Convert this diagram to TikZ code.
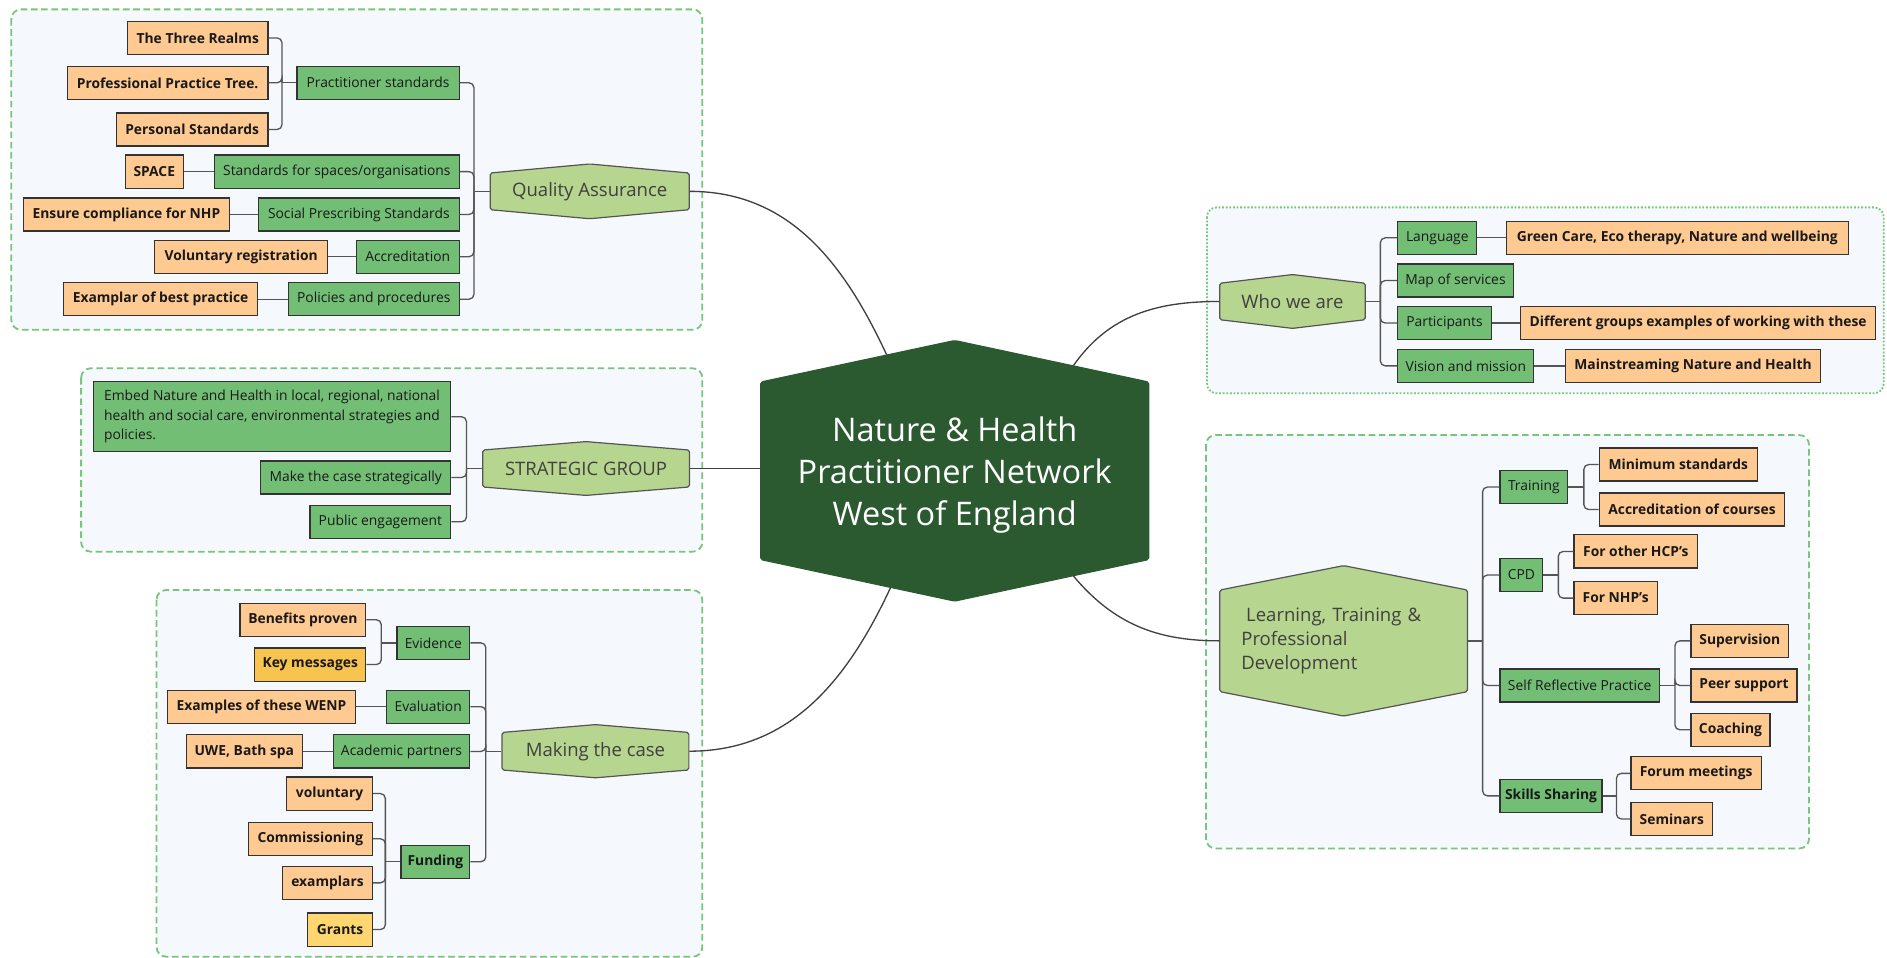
\documentclass[tikz,border=0pt]{standalone}
\usepackage{fontspec}
\setmainfont{Open Sans}
\usetikzlibrary{positioning,calc}
\definecolor{hubgreen}{RGB}{43,90,48}
\definecolor{topicgreen}{RGB}{182,213,142}
\definecolor{boxgreen}{RGB}{115,190,117}
\definecolor{leaforange}{RGB}{255,202,145}
\definecolor{keyorange}{RGB}{248,196,80}
\definecolor{grantyellow}{RGB}{255,214,112}
\definecolor{grpfill}{RGB}{245,249,253}
\definecolor{grpline}{RGB}{120,198,122}
\definecolor{linkgray}{RGB}{85,85,85}

\begin{document}
\begin{tikzpicture}[x=1pt,y=-1pt,
box/.style={draw=black!80,line width=1pt,fill=boxgreen,rectangle,minimum height=27.5pt,inner xsep=3pt,inner ysep=0pt,text=black!90,font=\fontsize{11.5}{13}\selectfont},
leaf/.style={box,fill=leaforange,font=\fontsize{11.5}{13}\selectfont\bfseries},
strong/.style={font=\fontsize{11.5}{13}\selectfont\bfseries},
hexa/.style n args={3}{rectangle,inner sep=0pt,outer sep=0pt,text=black!75,font=\fontsize{15.4}{19.7}\selectfont,
  path picture={\draw[#2,line width=1pt,fill=#1,rounded corners=1.5pt]
    ([shift={(0.5pt,-#3)}]path picture bounding box.north west) -- ([yshift=-0.5pt]path picture bounding box.north)
    -- ([shift={(-0.5pt,-#3)}]path picture bounding box.north east) -- ([shift={(-0.5pt,#3)}]path picture bounding box.south east)
    -- ([yshift=0.5pt]path picture bounding box.south) -- ([shift={(0.5pt,#3)}]path picture bounding box.south west) -- cycle;}},
link/.style={draw=linkgray,line width=1.1pt,rounded corners=4pt},
spoke/.style={draw=black!75,line width=1.1pt},
grp/.style={draw=grpline,fill=grpfill,line width=1.5pt,rounded corners=8pt,dash pattern=on 5.5pt off 3pt}]
\useasboundingbox (0,0) rectangle (1568,796);
\fill[white] (0,0) rectangle (1568,796);

\draw[grp] (9.4,7.8) rectangle (583.6,274);
\draw[grp] (67.4,306) rectangle (583.6,458.4);
\draw[grp] (130.1,490.3) rectangle (583.6,795);
\draw[grp,dash pattern=on 1.5pt off 1.5pt] (1003,172.3) rectangle (1565.3,326.8);
\draw[grp] (1002.1,361.5) rectangle (1503.2,705);

\node (hub) [hexa={hubgreen}{hubgreen}{35pt},minimum width=323.4pt,minimum height=217.5pt,text=white,font=\fontsize{27}{35}\selectfont,align=center,text depth=0pt] at (793.3,391.2) {Nature \& Health\\Practitioner Network\\West of England};

\node (qa) [hexa={topicgreen}{linkgray}{8pt},minimum width=166.4pt,minimum height=46.5pt] at (490,159) {Quality Assurance};
\node (sg) [hexa={topicgreen}{linkgray}{7.5pt},minimum width=172.8pt,minimum height=45.7pt] at (487,389.3) {STRATEGIC GROUP};
\node (mc) [hexa={topicgreen}{linkgray}{7pt},minimum width=156.2pt,minimum height=45.2pt] at (494.8,624.2) {Making the case};
\node (wwa) [hexa={topicgreen}{linkgray}{7.7pt},minimum width=122pt,minimum height=45.7pt] at (1074,250.5) {Who we are};
\node (ltp) [hexa={topicgreen}{linkgray}{20.8pt},minimum width=206.9pt,minimum height=126pt,align=left,text width=170pt] at (1116.5,532.5) {\hspace*{4pt}Learning, Training \&\\Professional\\Development};

\node (ps) [box,anchor=east,minimum width=134.7pt] at (382,68.8) {Practitioner standards};
\node (ssp) [box,anchor=east,minimum width=203.2pt] at (382,142.6) {Standards for spaces/organisations};
\node (sps) [box,anchor=east,minimum width=166.7pt] at (382,178.2) {Social Prescribing Standards};
\node (acc) [box,anchor=east,minimum width=85.4pt] at (382,213.3) {Accreditation};
\node (pp) [box,anchor=east,minimum width=141.9pt] at (382,248.6) {Policies and procedures};
\node (tr) [leaf,anchor=east,minimum width=116.7pt] at (223.2,31.5) {The Three Realms};
\node (ppt) [leaf,anchor=east,minimum width=166.8pt] at (223.2,68.8) {Professional Practice Tree.};
\node (pst) [leaf,anchor=east,minimum width=126.1pt] at (223.2,107.6) {Personal Standards};
\node (spc) [leaf,anchor=east,minimum width=48.2pt] at (152.8,142.6) {SPACE};
\node (ecn) [leaf,anchor=east,minimum width=171.3pt] at (191.2,178.2) {Ensure compliance for NHP};
\node (vr) [leaf,anchor=east,minimum width=143.9pt] at (272.9,213.3) {Voluntary registration};
\node (ebp) [leaf,anchor=east,minimum width=161.1pt] at (214.5,248.6) {Examplar of best practice};

\node (emb) [box,anchor=east,minimum width=297.2pt,minimum height=58.1pt,align=left,font=\fontsize{11.5}{16.3}\selectfont] at (375.1,346.3) {Embed Nature and Health in local, regional, national\\health and social care, environmental strategies and\\policies.};
\node (mcs) [box,anchor=east,minimum width=158pt] at (375.1,396.8) {Make the case strategically};
\node (pe) [box,anchor=east,minimum width=117pt] at (375.1,433.6) {Public engagement};

\node (evi) [box,anchor=east,minimum width=60.6pt] at (390.9,534.2) {Evidence};
\node (eva) [box,anchor=east,minimum width=69.2pt] at (390.9,587.2) {Evaluation};
\node (acp) [box,anchor=east,minimum width=113.5pt] at (390.9,624.4) {Academic partners};
\node (fun) [box,strong,anchor=east,minimum width=57.2pt] at (390.9,716) {Funding};
\node (bp) [leaf,anchor=east,minimum width=104.6pt] at (304.5,515) {Benefits proven};
\node (km) [leaf,fill=keyorange,anchor=east,minimum width=92.3pt] at (304.5,552.2) {Key messages};
\node (etw) [leaf,anchor=east,minimum width=155.6pt] at (295.6,587.2) {Examples of these WENP};
\node (uwe) [leaf,anchor=east,minimum width=96.2pt] at (251.6,624.4) {UWE, Bath spa};
\node (vol) [leaf,anchor=east,minimum width=71.3pt] at (310,659.4) {voluntary};
\node (com) [leaf,anchor=east,minimum width=103.3pt] at (310,697) {Commissioning};
\node (exa) [leaf,anchor=east,minimum width=74.7pt] at (310,733.6) {examplars};
\node (gra) [leaf,fill=grantyellow,anchor=east,minimum width=53.8pt] at (310,772.4) {Grants};

\node (lan) [box,anchor=west,minimum width=65.6pt] at (1161,197.6) {Language};
\node (map) [box,anchor=west,minimum width=95.8pt] at (1161,233.1) {Map of services};
\node (par) [box,anchor=west,minimum width=77.6pt] at (1161,268.4) {Participants};
\node (vim) [box,anchor=west,minimum width=113pt] at (1161,304) {Vision and mission};
\node (gce) [leaf,anchor=west,minimum width=284.4pt] at (1251,197.6) {Green Care, Eco therapy, Nature and wellbeing};
\node (dge) [leaf,anchor=west,minimum width=295pt] at (1263,268.4) {Different groups examples of working with these};
\node (mnh) [leaf,anchor=west,minimum width=212.2pt] at (1300.2,304) {Mainstreaming Nature and Health};

\node (trn) [box,anchor=west,minimum width=56.2pt] at (1245.9,404.7) {Training};
\node (cpd) [box,anchor=west,minimum width=35.5pt] at (1245.9,477.8) {CPD};
\node (srp) [box,anchor=west,minimum width=132.4pt] at (1245.9,569.6) {Self Reflective Practice};
\node (ssh) [box,strong,anchor=west,minimum width=84.8pt] at (1245.9,661.3) {Skills Sharing};
\node (mst) [leaf,anchor=west,minimum width=131.4pt] at (1328.4,386) {Minimum standards};
\node (aoc) [leaf,anchor=west,minimum width=154.1pt] at (1328.4,423.4) {Accreditation of courses};
\node (hcp) [leaf,anchor=west,minimum width=102.8pt] at (1307.4,458.2) {For other HCP's};
\node (nhp) [leaf,anchor=west,minimum width=69.3pt] at (1307.4,497) {For NHP's};
\node (sup) [leaf,anchor=west,minimum width=81.2pt] at (1404.6,532.5) {Supervision};
\node (pee) [leaf,anchor=west,minimum width=88.1pt] at (1404.6,569.6) {Peer support};
\node (coa) [leaf,anchor=west,minimum width=65.7pt] at (1404.6,606.4) {Coaching};
\node (fme) [leaf,anchor=west,minimum width=108.4pt] at (1354.7,642.6) {Forum meetings};
\node (sem) [leaf,anchor=west,minimum width=68pt] at (1354.7,680.5) {Seminars};

\coordinate (hubnw) at ([yshift=-35pt]hub.north west);
\coordinate (hubne) at ([yshift=-35pt]hub.north east);
\coordinate (hubsw) at ([yshift=35pt]hub.south west);
\coordinate (hubse) at ([yshift=35pt]hub.south east);
\draw[spoke] ($(hub.north)!0.35!(hubnw)$) to[out=115,in=0] (qa.east);
\draw[spoke] (sg.east) -- (sg.east -| hub.west);
\draw[spoke] ($(hub.south)!0.33!(hubsw)$) to[out=-115,in=0] (mc.east);
\draw[spoke] ($(hub.north)!0.61!(hubne)$) to[out=55,in=180] (wwa.west);
\draw[spoke] ($(hub.south)!0.61!(hubse)$) to[out=-50,in=180] (ltp.west);

\draw[link] (qa.west) -- ++(-13,0) coordinate (qab);
\foreach \n in {ps,ssp,sps,acc,pp} \draw[link] (qab) |- (\n.east);
\draw[link] (ps.west) -- ++(-12,0) coordinate (psb);
\foreach \n in {tr,ppt,pst} \draw[link] (psb) |- (\n.east);
\draw[link] (ssp.west) -- (spc.east);
\draw[link] (sps.west) -- (ecn.east);
\draw[link] (acc.west) -- (vr.east);
\draw[link] (pp.west) -- (ebp.east);

\draw[link] (sg.west) -- ++(-13,0) coordinate (sgb);
\foreach \n in {emb,mcs,pe} \draw[link] (sgb) |- (\n.east);

\draw[link] (mc.west) -- ++(-13,0) coordinate (mcb);
\foreach \n in {evi,eva,acp,fun} \draw[link] (mcb) |- (\n.east);
\draw[link] (evi.west) -- ++(-12.5,0) coordinate (evb);
\foreach \n in {bp,km} \draw[link] (evb) |- (\n.east);
\draw[link] (eva.west) -- (etw.east);
\draw[link] (acp.west) -- (uwe.east);
\draw[link] (fun.west) -- ++(-12.5,0) coordinate (fub);
\foreach \n in {vol,com,exa,gra} \draw[link] (fub) |- (\n.east);

\draw[link] (wwa.east) -- ++(12,0) coordinate (wwb);
\foreach \n in {lan,map,par,vim} \draw[link] (wwb) |- (\n.west);
\draw[link] (lan.east) -- (gce.west);
\draw[link] (par.east) -- (dge.west);
\draw[link] (vim.east) -- (mnh.west);

\draw[link] (ltp.east) -- ++(12,0) coordinate (ltb);
\foreach \n in {trn,cpd,srp,ssh} \draw[link] (ltb) |- (\n.west);
\draw[link] (trn.east) -- ++(13,0) coordinate (trb);
\foreach \n in {mst,aoc} \draw[link] (trb) |- (\n.west);
\draw[link] (cpd.east) -- ++(12.5,0) coordinate (cpb);
\foreach \n in {hcp,nhp} \draw[link] (cpb) |- (\n.west);
\draw[link] (srp.east) -- ++(12.5,0) coordinate (srb);
\foreach \n in {sup,pee,coa} \draw[link] (srb) |- (\n.west);
\draw[link] (ssh.east) -- ++(11.5,0) coordinate (ssb);
\foreach \n in {fme,sem} \draw[link] (ssb) |- (\n.west);
\end{tikzpicture}
\end{document}
